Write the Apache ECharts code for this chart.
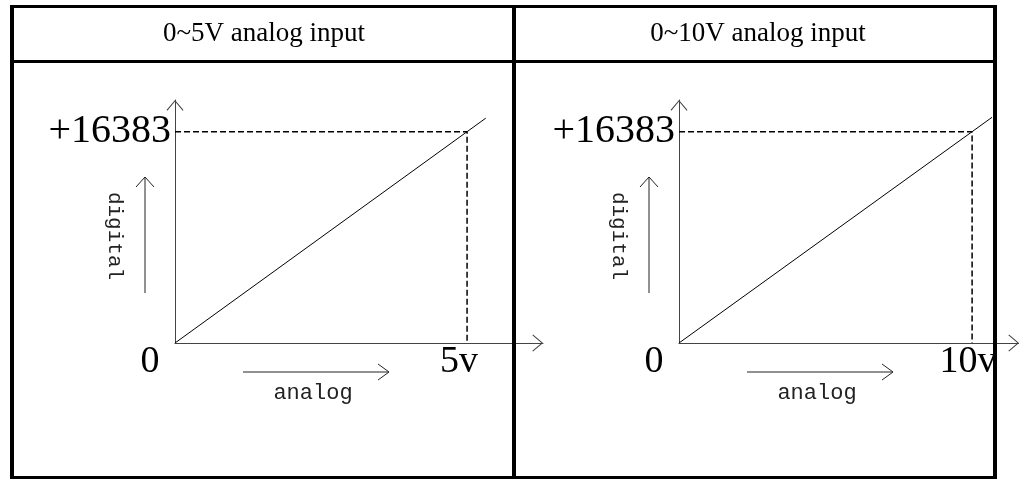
<!DOCTYPE html>
<html>
<head>
<meta charset="utf-8">
<script src="https://cdn.jsdelivr.net/npm/echarts@6/dist/echarts.min.js"></script>
<style>
    html, body { margin: 0; padding: 0; background: #fff; }
    #main { width: 1019px; height: 480px; }
</style>
</head>
<body>
<div id="main"></div>
<script>
// panel data
const panelTitles = ['0~5V analog input', '0~10V analog input'];
const fullScale = 16383;
const rangeVolts = [5, 10];
const xTickValues = [[0, 5], [0, 10]];
const xTickLabels = [['0', '5v'], ['0', '10v']];
const yTickValues = [16383];
const yTickLabels = ['+16383'];
const lineEndX = [5.32, 10.68];
const lineEndY = [17430, 17500];
const axisMaxX = [6.3, 11.6];
const axisMaxY = 18840;

const serif = "'Liberation Serif', 'Times New Roman', serif";
const mono = "'Liberation Mono', 'Courier New', monospace";
const chevron = 'path://M0,10 L8.5,0 L17,10 L16.2,10.7 L8.5,1.6 L0.8,10.7 Z';

const gridLeft = [175, 679];
const gridWidth = [368, 340];
const gridTop = 100;
const gridHeight = 243;

var myChart = echarts.init(document.getElementById('main'), null, { renderer: 'canvas' });

const grids = [], xAxes = [], yAxes = [], series = [];
const xPad = [[50, 16], [50, 8]];

panelTitles.forEach(function (t, i) {
    grids.push({
        left: gridLeft[i],
        top: gridTop,
        width: gridWidth[i],
        height: gridHeight,
        containLabel: false,
        outerBoundsMode: 'none'
    });
    xAxes.push({
        type: 'value',
        gridIndex: i,
        min: 0,
        max: axisMaxX[i],
        splitLine: { show: false },
        axisTick: { show: false },
        axisLine: {
            lineStyle: { color: '#444', width: 1 },
            symbol: ['none', chevron],
            symbolSize: [17, 10.7],
            symbolOffset: [0, -5.3]
        },
        axisLabel: {
            customValues: xTickValues[i],
            margin: 0,
            formatter: function (v) {
                const k = xTickValues[i].indexOf(v);
                return '{l' + k + '|' + xTickLabels[i][k] + '}';
            },
            rich: {
                l0: { fontFamily: serif, fontSize: 38, color: '#000', padding: [0, xPad[i][0], 0, 0] },
                l1: { fontFamily: serif, fontSize: 38, color: '#000', padding: [0, xPad[i][1], 0, 0] }
            }
        }
    });
    yAxes.push({
        type: 'value',
        gridIndex: i,
        min: 0,
        max: axisMaxY,
        splitLine: { show: false },
        axisTick: { show: false },
        axisLine: {
            lineStyle: { color: '#444', width: 1 },
            symbol: ['none', chevron],
            symbolSize: [17, 10.7],
            symbolOffset: [0, -5.3]
        },
        axisLabel: {
            customValues: yTickValues,
            margin: 4,
            formatter: function (v) {
                return yTickLabels[yTickValues.indexOf(v)];
            },
            fontFamily: serif,
            fontSize: 40,
            color: '#000'
        }
    });
    series.push({
        type: 'line',
        xAxisIndex: i,
        yAxisIndex: i,
        symbol: 'none',
        silent: true,
        lineStyle: { color: '#000', width: 1 },
        data: [[0, 0], [rangeVolts[i], fullScale], [lineEndX[i], lineEndY[i]]]
    });
    series.push({
        type: 'line',
        xAxisIndex: i,
        yAxisIndex: i,
        symbol: 'none',
        silent: true,
        lineStyle: { color: '#000', width: 1.5, type: [6, 3] },
        data: [[0, fullScale], [rangeVolts[i], fullScale], [rangeVolts[i], 0]]
    });
});

// small "digital" / "analog" arrows and the table frame
function annotations(ox, oy) {
    const dx = ox - 30;
    const ax1 = ox + 68, ax2 = ox + 214, ay = oy + 29;
    const line = { stroke: '#222', lineWidth: 1, fill: null };
    return [
        { type: 'line', shape: { x1: dx, y1: oy - 50, x2: dx, y2: oy - 166 }, style: line },
        { type: 'polyline', shape: { points: [[dx - 9, oy - 156], [dx, oy - 166], [dx + 9, oy - 156]] }, style: line },
        { type: 'text', x: ox - 60, y: oy - 107, rotation: -Math.PI / 2,
          style: { text: 'digital', font: '21px ' + mono, fill: '#222', align: 'center', verticalAlign: 'middle' } },
        { type: 'line', shape: { x1: ax1, y1: ay, x2: ax2, y2: ay }, style: line },
        { type: 'polyline', shape: { points: [[ax2 - 11, ay - 8], [ax2, ay], [ax2 - 11, ay + 8]] }, style: line },
        { type: 'text', x: ox + 138, y: oy + 50,
          style: { text: 'analog', font: '22px ' + mono, fill: '#222', align: 'center', verticalAlign: 'middle' } }
    ];
}

const frame = [
    { type: 'rect', z: 100, shape: { x: 10, y: 5, width: 987, height: 3 }, style: { fill: '#000' } },
    { type: 'rect', z: 100, shape: { x: 10, y: 60, width: 987, height: 3 }, style: { fill: '#000' } },
    { type: 'rect', z: 100, shape: { x: 10, y: 476, width: 987, height: 3 }, style: { fill: '#000' } },
    { type: 'rect', z: 100, shape: { x: 10, y: 5, width: 4, height: 474 }, style: { fill: '#000' } },
    { type: 'rect', z: 100, shape: { x: 512, y: 5, width: 4, height: 474 }, style: { fill: '#000' } },
    { type: 'rect', z: 100, shape: { x: 993, y: 5, width: 4, height: 474 }, style: { fill: '#000' } },
    { type: 'text', x: 264, y: 34, style: { text: panelTitles[0], font: '27px ' + serif, fill: '#000', align: 'center', verticalAlign: 'middle' } },
    { type: 'text', x: 758, y: 34, style: { text: panelTitles[1], font: '27px ' + serif, fill: '#000', align: 'center', verticalAlign: 'middle' } }
];

myChart.setOption({
    animation: false,
    backgroundColor: '#fff',
    grid: grids,
    xAxis: xAxes,
    yAxis: yAxes,
    series: series,
    graphic: frame.concat(annotations(175, 343), annotations(679, 343))
});
</script>
</body>
</html>
